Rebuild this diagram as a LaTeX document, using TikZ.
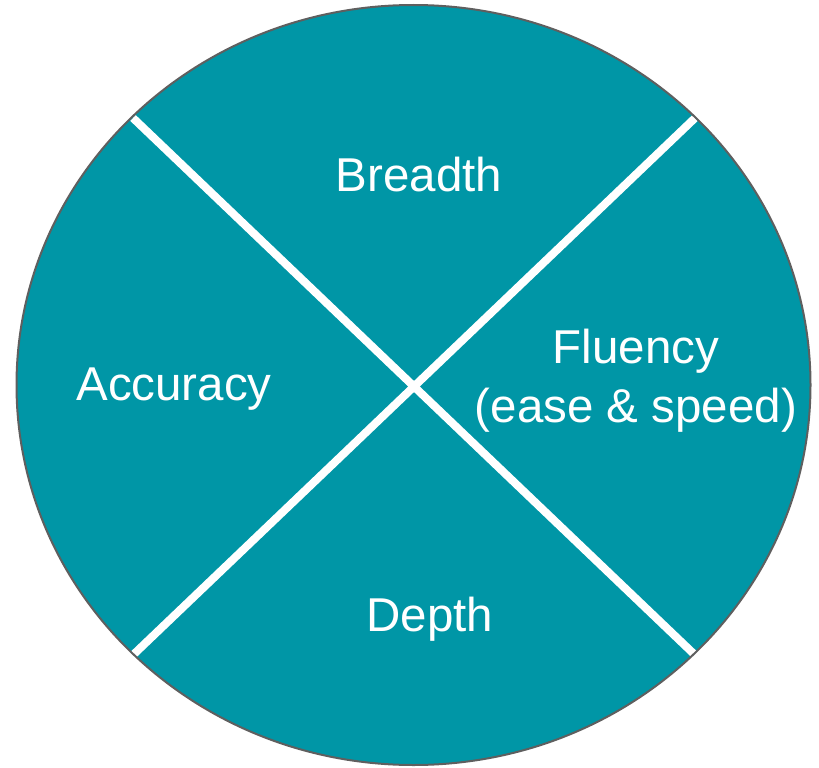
\documentclass[tikz,border=0pt]{standalone}
\usepackage{fontspec}
\setmainfont{Liberation Sans}
\usetikzlibrary{positioning}
\definecolor{wheelteal}{RGB}{0,150,166}
\definecolor{rimgray}{RGB}{95,95,95}

\begin{document}
\begin{tikzpicture}[x=1pt, y=-1pt,
    label/.style={text=white, align=center, font=\fontsize{47.5}{59}\selectfont},
    divider/.style={white, line width=8pt}
]
\useasboundingbox (0,0) rectangle (819,768);

% Wheel
\coordinate (hub) at (413.5,385);
\fill[wheelteal] (hub) ellipse [x radius=397, y radius=380];

% Dividers
\coordinate (tl) at (133,118);
\coordinate (tr) at (695,118);
\coordinate (bl) at (133,655);
\coordinate (br) at (695,655);
\draw[divider] (tl) -- (br);
\draw[divider] (tr) -- (bl);
\draw[rimgray, line width=2pt] (hub) ellipse [x radius=397, y radius=380];

% Labels
\node[label] (breadth) at (419,175) {Breadth};
\node[label] (accuracy) at (174,389) {Accuracy};
\node[label] (fluency) at (636,381) {Fluency\\(ease \& speed)};
\node[label] (depth) at (430,619) {Depth};

\end{tikzpicture}
\end{document}
